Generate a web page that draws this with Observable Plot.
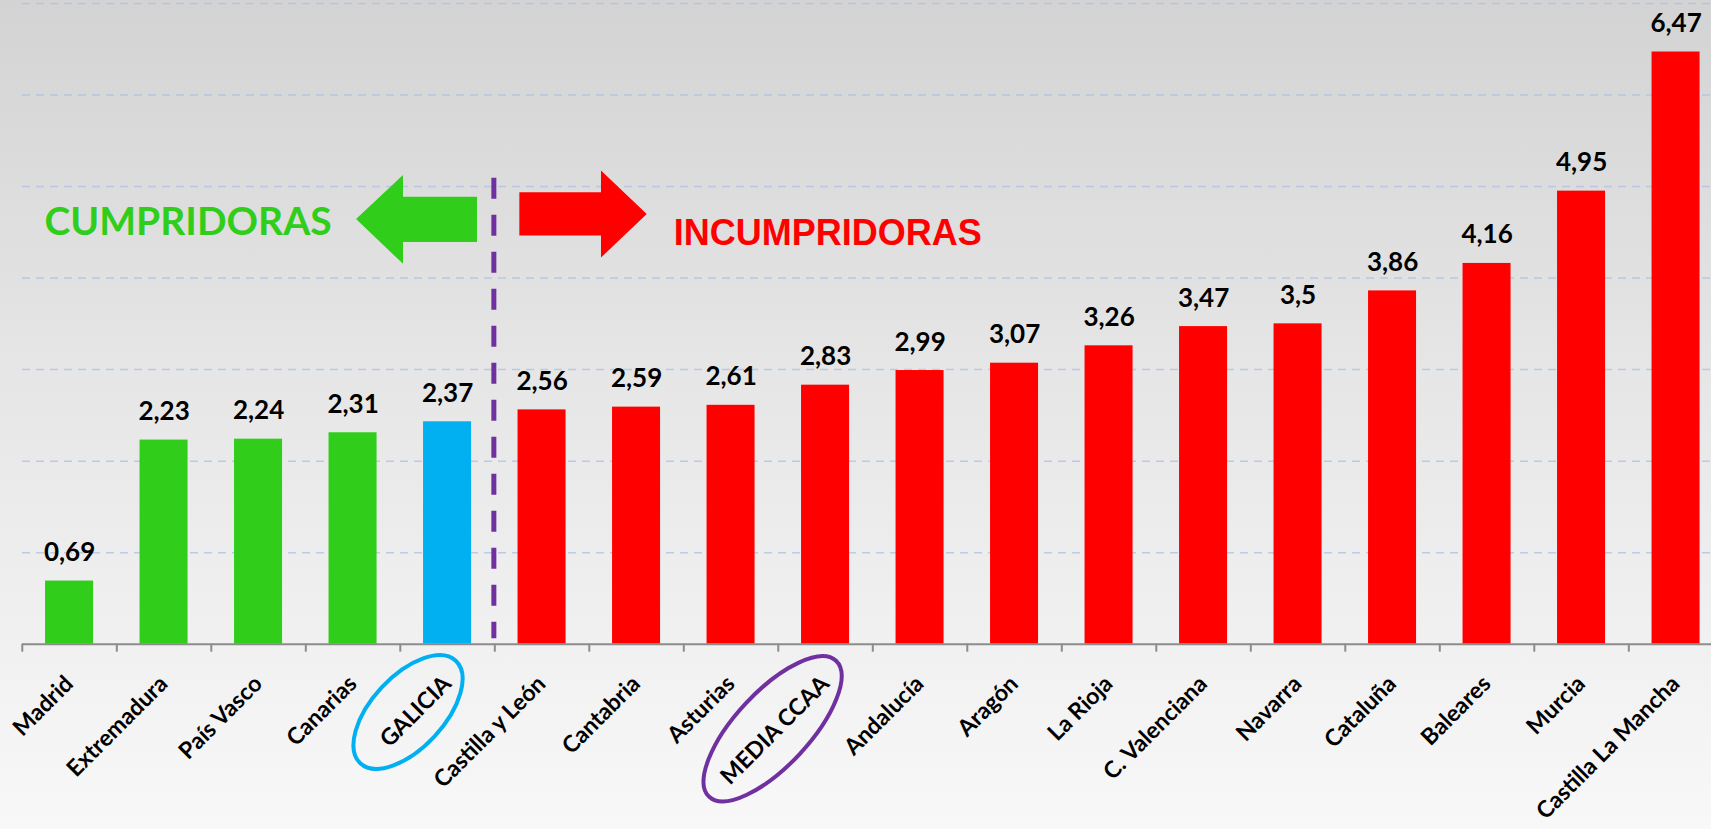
<!DOCTYPE html>
<html><head><meta charset="utf-8">
<script src="https://cdn.jsdelivr.net/npm/d3@7"></script>
<script src="https://cdn.jsdelivr.net/npm/@observablehq/plot@0.6"></script>
<style>
html,body{margin:0;padding:0;width:1711px;height:829px;overflow:hidden;
background:linear-gradient(to bottom,#d3d3d3 0%,#e6e6e6 45%,#f8f8f8 100%);}
#chart svg{display:block;}
</style></head><body><div id="chart"></div>
<script>
// ---- data ----
const regions = ["Madrid","Extremadura","País Vasco","Canarias","GALICIA","Castilla y León","Cantabria","Asturias","MEDIA CCAA","Andalucía","Aragón","La Rioja","C. Valenciana","Navarra","Cataluña","Baleares","Murcia","Castilla La Mancha"];
// bar heights as drawn in the picture (the GALICIA bar is drawn a bit taller than its 2,37 label)
const values = [0.69,2.23,2.24,2.31,2.43,2.56,2.59,2.61,2.83,2.99,3.07,3.26,3.47,3.5,3.86,4.16,4.95,6.47];
const valueLabels = ["0,69","2,23","2,24","2,31","2,37","2,56","2,59","2,61","2,83","2,99","3,07","3,26","3,47","3,5","3,86","4,16","4,95","6,47"];
const groups = ["cumple","cumple","cumple","cumple","galicia","incumple","incumple","incumple","incumple","incumple","incumple","incumple","incumple","incumple","incumple","incumple","incumple","incumple"];
const gridTicks = [1,2,3,4,5,6,7];

// ---- annotations (data units: x = category index, y = value) ----
const dividerX = [4.49];
const dividerSpan = {top: 5.09, bottom: 0.06};
const arrowLeft = [
  {x: 3.037, y1: 4.641, y2: 4.641},
  {x: 3.534, y1: 4.150, y2: 5.122},
  {x: 3.534, y1: 4.390, y2: 4.882},
  {x: 4.317, y1: 4.390, y2: 4.882}
];
const arrowRight = [
  {x: 4.765, y1: 4.459, y2: 4.933},
  {x: 5.629, y1: 4.459, y2: 4.933},
  {x: 5.629, y1: 4.219, y2: 5.169},
  {x: 6.113, y1: 4.696, y2: 4.696}
];
const headingLeft = [{x: -0.265, y: 4.474, text: "CUMPRIDORAS"}];
const headingRight = [{x: 6.394, y: 4.365, text: "INCUMPRIDORAS"}];
const rings = [
  {x: 3.587, y: -0.746, rx: 70, ry: 36, angle: -47, color: "#00b0f0"},
  {x: 7.445, y: -0.930, rx: 93, ry: 37, angle: -47, color: "#7030a0"}
];

// ---- layout ----
const W = 1711, H = 829;
const X0 = 21.8, STEP = 94.5, Y0 = 643.7, YTOP = 3;
const n = regions.length;
const half = 0.254;
const tickLen = 8 * 7 / (Y0 - YTOP);
const green = "#30cd1a", blue = "#00b0f0", red = "#ff0000";

const data = regions.map((r, i) => ({i, region: r, value: values[i], label: valueLabels[i], group: groups[i]}));
const bounds = d3.range(n + 1).map(k => k - 0.5);

const chart = Plot.plot({
  width: W, height: H,
  marginLeft: 22, marginRight: 0, marginTop: YTOP, marginBottom: H - Y0,
  style: {background: "transparent", maxWidth: "none", overflow: "hidden"},
  x: {type: "linear", domain: [-0.5, n - 0.5], range: [X0, X0 + STEP * n], axis: null},
  y: {domain: [0, 7], range: [Y0, YTOP], axis: null},
  color: {domain: ["cumple", "galicia", "incumple"], range: [green, blue, red]},
  marks: [
    Plot.ruleY(gridTicks, {stroke: "#a9bfe6", strokeOpacity: 0.75, strokeWidth: 1.5, strokeDasharray: "8,6"}),
    Plot.ruleX(dividerX, {y1: dividerSpan.top, y2: dividerSpan.bottom, stroke: "#7030a0", strokeWidth: 5, strokeDasharray: "21,16"}),
    Plot.rect(data, {x1: d => d.i - half, x2: d => d.i + half, y1: 0, y2: "value", fill: "group"}),
    Plot.ruleY([0], {stroke: "#8c8c8c", strokeWidth: 2}),
    Plot.ruleX(bounds, {y1: 0, y2: -tickLen, stroke: "#8c8c8c", strokeWidth: 2}),
    Plot.text(data, {x: "i", y: "value", text: "label", lineAnchor: "bottom", dy: -20,
      fontSize: 26, fontWeight: "bold", fontFamily: "Lato", fill: "#000"}),
    Plot.text(data, {x: "i", y: 0, text: "region", rotate: -45, textAnchor: "end", lineAnchor: "bottom",
      dx: 5, dy: 41, fontSize: 23, fontWeight: "bold", fontFamily: "Lato", fill: "#000"}),
    Plot.areaY(arrowLeft, {x: "x", y1: "y1", y2: "y2", fill: green}),
    Plot.areaY(arrowRight, {x: "x", y1: "y1", y2: "y2", fill: red}),
    Plot.text(headingLeft, {x: "x", y: "y", text: "text", fill: green, textAnchor: "start", lineAnchor: "bottom",
      fontSize: 39, fontFamily: "Lato", fontWeight: "bold"}),
    Plot.text(headingRight, {x: "x", y: "y", text: "text", fill: red, textAnchor: "start", lineAnchor: "bottom",
      fontSize: 36, fontFamily: "Liberation Sans", fontWeight: "bold"})
  ]
});
document.getElementById("chart").appendChild(chart);

const sx = d3.scaleLinear([-0.5, n - 0.5], [X0, X0 + STEP * n]);
const sy = d3.scaleLinear([0, 7], [Y0, YTOP]);
d3.select(chart).selectAll("ellipse.ring").data(rings).join("ellipse")
  .attr("class", "ring")
  .attr("cx", 0).attr("cy", 0)
  .attr("rx", d => d.rx).attr("ry", d => d.ry)
  .attr("transform", d => `translate(${sx(d.x)},${sy(d.y)}) rotate(${d.angle})`)
  .attr("fill", "none").attr("stroke", d => d.color).attr("stroke-width", 4);
</script></body></html>
